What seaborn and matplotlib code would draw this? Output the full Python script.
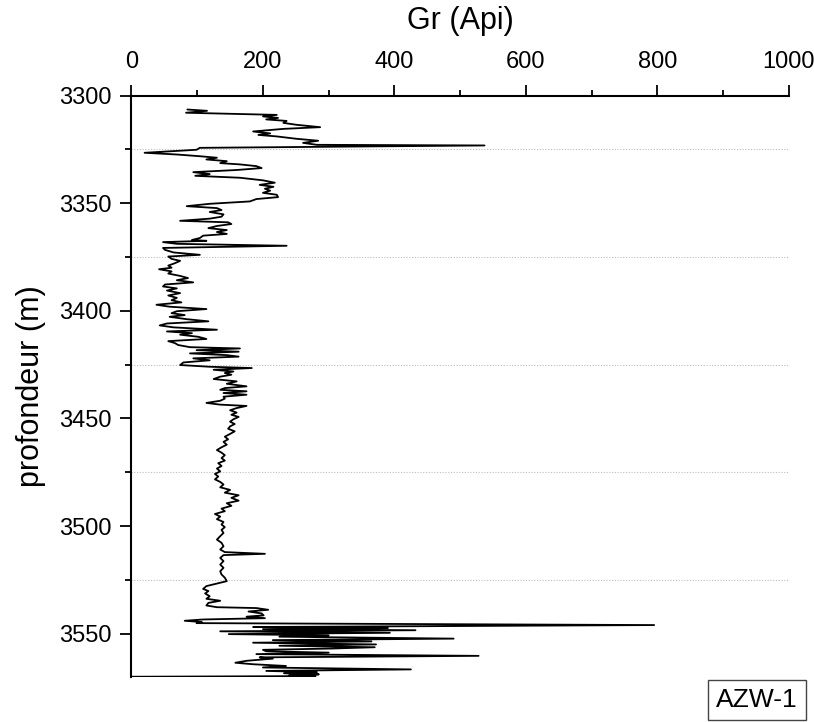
import numpy as np
import pandas as pd
import matplotlib
matplotlib.use("Agg")
import matplotlib.pyplot as plt
import seaborn as sns
from matplotlib.ticker import MultipleLocator

# --- data (depth in m, gamma ray in API) ---
depth = [
    3306.5, 3307.1, 3308.0, 3309.0, 3309.7, 3310.4, 3311.1, 3311.8, 3312.7, 3313.6,
    3314.7, 3315.5, 3316.7, 3317.6, 3318.3, 3319.0, 3320.1, 3321.0, 3322.0, 3322.9,
    3323.2, 3324.3, 3325.2, 3326.6, 3327.4, 3328.2, 3328.9, 3329.7, 3330.5, 3331.4,
    3332.0, 3332.8, 3333.7, 3334.6, 3335.6, 3336.5, 3337.3, 3338.2, 3339.4, 3340.5,
    3341.5, 3342.4, 3343.3, 3344.2, 3345.2, 3346.1, 3347.2, 3348.1, 3349.2, 3350.3,
    3351.4, 3352.3, 3353.2, 3354.1, 3355.2, 3356.3, 3357.2, 3358.2, 3358.9, 3359.7,
    3360.6, 3361.6, 3362.5, 3363.4, 3364.3, 3365.1, 3366.2, 3367.1, 3367.5, 3368.1,
    3368.9, 3369.8, 3370.8, 3371.7, 3372.9, 3374.0, 3374.8, 3375.9, 3376.8, 3377.9,
    3379.0, 3380.0, 3380.7, 3381.7, 3382.7, 3383.8, 3384.8, 3385.8, 3386.8, 3387.8,
    3388.7, 3389.6, 3390.6, 3391.8, 3392.9, 3394.0, 3395.1, 3396.1, 3397.2, 3398.1,
    3399.2, 3400.2, 3401.1, 3402.0, 3402.8, 3403.9, 3404.9, 3405.9, 3406.8, 3407.7,
    3408.8, 3409.6, 3410.4, 3411.1, 3412.1, 3413.1, 3414.1, 3415.0, 3415.9, 3416.9,
    3417.5, 3418.3, 3419.0, 3419.8, 3420.6, 3421.3, 3422.1, 3423.0, 3424.0, 3425.2,
    3426.0, 3426.6, 3427.4, 3428.2, 3428.9, 3429.7, 3430.6, 3431.7, 3432.8, 3433.9,
    3435.1, 3435.9, 3436.7, 3437.4, 3438.2, 3439.0, 3439.9, 3440.8, 3441.8, 3442.8,
    3443.6, 3444.2, 3445.2, 3446.2, 3447.3, 3448.3, 3449.3, 3450.4, 3451.5, 3452.6,
    3453.7, 3454.8, 3456.0, 3457.2, 3458.5, 3459.7, 3460.9, 3462.2, 3463.4, 3464.7,
    3465.9, 3467.1, 3468.4, 3469.6, 3470.8, 3472.1, 3473.3, 3474.6, 3475.8, 3477.0,
    3478.3, 3479.5, 3480.7, 3482.0, 3483.2, 3484.5, 3485.7, 3486.9, 3488.2, 3489.4,
    3490.6, 3491.9, 3493.1, 3494.4, 3495.6, 3496.8, 3498.1, 3499.3, 3500.5, 3501.8,
    3503.2, 3504.7, 3506.3, 3507.8, 3509.4, 3510.9, 3512.1, 3512.9, 3513.5, 3514.8,
    3516.3, 3517.9, 3519.4, 3521.0, 3522.5, 3524.0, 3525.6, 3526.7, 3527.9, 3529.2,
    3530.2, 3531.3, 3532.6, 3533.8, 3534.7, 3535.7, 3536.9, 3537.7, 3538.1, 3538.9,
    3539.7, 3540.6, 3541.5, 3542.1, 3542.8, 3543.4, 3544.0, 3544.6, 3545.1, 3546.0,
    3546.9, 3547.4, 3547.9, 3548.4, 3548.9, 3549.6, 3550.2, 3550.8, 3551.4, 3552.3,
    3553.0, 3553.6, 3554.2, 3555.0, 3555.6, 3556.3, 3556.9, 3557.5, 3558.2, 3558.8,
    3559.5, 3560.3, 3561.0, 3561.6, 3562.6, 3563.5, 3564.2, 3565.0, 3565.7, 3566.6,
    3567.3, 3567.9, 3568.4, 3568.9, 3569.3, 3569.7, 3570.0,
]
gr = [
    85, 115, 83, 221, 200, 223, 205, 236, 231, 251,
    287, 231, 185, 211, 193, 221, 251, 284, 261, 282,
    537, 104, 99, 20, 69, 104, 130, 114, 145, 135,
    165, 190, 198, 160, 94, 119, 97, 165, 200, 218,
    195, 216, 203, 211, 200, 221, 223, 190, 180, 119,
    84, 130, 137, 119, 140, 137, 119, 74, 147, 152,
    130, 117, 145, 130, 145, 109, 104, 92, 114, 48,
    69, 236, 48, 51, 64, 104, 56, 61, 74, 66,
    56, 61, 42, 61, 56, 74, 86, 69, 94, 51,
    48, 69, 54, 74, 56, 69, 61, 76, 38, 58,
    114, 69, 61, 81, 58, 84, 117, 54, 43, 64,
    130, 54, 92, 74, 102, 114, 56, 66, 71, 89,
    165, 99, 163, 89, 145, 163, 94, 119, 79, 74,
    119, 183, 125, 155, 142, 152, 135, 125, 160, 145,
    175, 142, 135, 175, 140, 175, 140, 142, 135, 114,
    135, 175, 160, 150, 160, 152, 163, 155, 150, 157,
    150, 147, 157, 150, 142, 147, 140, 145, 137, 130,
    137, 142, 137, 142, 132, 137, 130, 135, 127, 132,
    127, 135, 140, 135, 150, 142, 163, 152, 163, 145,
    152, 137, 142, 127, 135, 130, 140, 137, 142, 137,
    140, 135, 130, 137, 140, 135, 142, 203, 140, 135,
    140, 135, 140, 135, 137, 142, 145, 130, 114, 109,
    117, 112, 119, 114, 135, 117, 114, 130, 190, 208,
    178, 198, 201, 175, 203, 109, 81, 107, 99, 795,
    185, 390, 200, 432, 135, 393, 148, 300, 225, 490,
    215, 365, 185, 372, 225, 370, 305, 200, 205, 300,
    190, 528, 195, 215, 175, 158, 185, 235, 200, 425,
    205, 282, 232, 285, 240, 280, 0,
]

grid_depths = [3325, 3375, 3425, 3475, 3525]
well_name = "AZW-1"

df = pd.DataFrame({"Depth": depth, "GR": gr})

sns.set_style("ticks")
plt.rcParams["font.family"] = ["Liberation Sans", "DejaVu Sans"]
plt.rcParams["text.color"] = "black"
plt.rcParams["axes.labelcolor"] = "black"
plt.rcParams["xtick.color"] = "black"
plt.rcParams["ytick.color"] = "black"

fig = plt.figure(figsize=(8.14, 7.22), dpi=100)
ax = fig.add_axes([0.1615, 0.0627, 0.8077, 0.805])

for d in grid_depths:
    ax.axhline(d, color="#bdbdbd", lw=0.8, ls=(0, (1, 1.5)), zorder=0)

sns.lineplot(data=df, x="GR", y="Depth", sort=False, orient="y", estimator=None,
             color="black", lw=1.3, ax=ax)

ax.set_xlim(0, 1000)
ax.set_ylim(3570, 3300)
ax.xaxis.tick_top()
ax.xaxis.set_label_position("top")
ax.set_xticks(range(0, 1001, 200))
ax.xaxis.set_minor_locator(MultipleLocator(100))
ax.set_yticks(range(3300, 3551, 50))
ax.yaxis.set_minor_locator(MultipleLocator(25))

ax.tick_params(which="major", direction="out", length=8, width=1.3, labelsize=17, color="black")
ax.tick_params(which="minor", direction="out", length=4, width=1.3, color="black")
ax.tick_params(axis="x", which="both", top=True, bottom=False, pad=8)
ax.tick_params(axis="y", which="both", left=True, right=False, pad=6)

for side in ["right", "bottom"]:
    ax.spines[side].set_visible(False)
for side in ["top", "left"]:
    ax.spines[side].set_linewidth(1.5)
    ax.spines[side].set_color("black")

ax.set_xlabel("Gr (Api)", fontsize=22, labelpad=16)
ax.set_ylabel("profondeur (m)", fontsize=22, labelpad=10)

fig.text(0.930, 0.0305, well_name, fontsize=19, ha="center", va="center",
         bbox=dict(boxstyle="square,pad=0.3", fc="white", ec="#444444", lw=1.0))

fig.savefig("out.png", dpi=100)
